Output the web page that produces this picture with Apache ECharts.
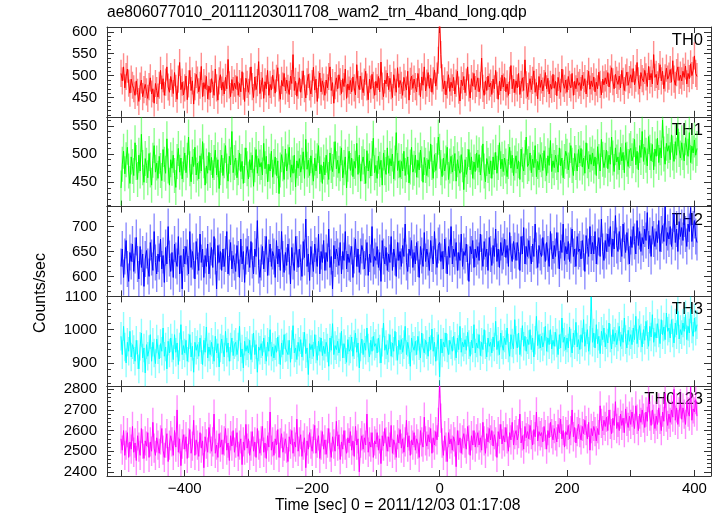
<!DOCTYPE html>
<html>
<head>
<meta charset="utf-8">
<script src="https://cdn.jsdelivr.net/npm/echarts@6/dist/echarts.min.js"></script>
<style>html,body{margin:0;padding:0;background:#fff}#c{width:720px;height:516px}</style>
</head>
<body>
<div id="c"></div>
<script>
// time grid of the light curves (seconds from 2011/12/03 01:17:08)
const timeStart = -500;
const timeStep = 2;

const th0 = [
505,488,520,472,498,515,483,460,492,478,
470,455,488,462,441,476,490,452,468,480,
463,448,475,495,458,470,437,482,466,451,
478,512,469,493,455,485,520,474,462,498,
483,459,507,471,446,492,530,468,485,456,
472,499,445,481,512,466,488,435,475,503,
490,463,478,521,452,484,470,498,447,476,
461,493,480,455,515,472,444,488,502,467,
485,458,496,470,537,479,452,491,466,483,
470,498,455,482,463,509,476,441,494,480,
462,488,520,475,450,497,468,484,532,459,
477,495,448,486,470,512,455,480,467,501,
483,460,494,518,472,446,489,476,505,465,
490,471,457,499,482,548,466,487,453,478,
495,462,480,511,470,449,486,503,474,458,
482,519,467,492,441,479,506,463,488,474,
455,490,472,498,520,466,484,437,477,495,
470,502,486,459,493,475,515,448,481,467,
489,463,497,472,456,525,480,468,499,476,
461,485,510,474,445,492,469,503,478,455,
487,472,498,463,531,476,452,490,481,506,
468,494,477,450,502,485,462,518,473,489,
478,455,496,481,467,510,444,487,499,471,
492,475,463,505,486,452,497,478,520,465,
483,507,471,494,462,488,513,476,499,535,
640,548,495,470,488,456,479,502,464,485,
472,496,458,483,510,467,442,490,477,498,
461,485,520,472,449,493,476,505,468,482,
495,463,478,540,471,455,488,466,499,474,
483,457,492,470,512,478,446,487,465,501,
474,496,463,481,455,489,523,470,492,461,
488,472,505,457,480,495,466,536,479,452,
476,493,468,489,511,462,484,447,498,473,
490,465,482,507,470,494,458,480,469,503,
471,487,454,496,478,462,515,483,471,490,
462,498,480,472,505,455,487,470,494,478,
484,466,501,477,493,458,482,510,469,488,
475,497,463,485,470,508,480,456,492,479,
495,481,507,474,492,518,486,470,503,489,
480,499,472,512,487,466,495,508,478,491,
502,485,516,479,494,530,488,470,507,493,
486,512,497,475,521,490,505,481,548,496,
503,479,498,525,488,510,470,495,517,492,
499,514,485,534,492,478,507,520,489,501,
488,510,496,522,481,505,493,527,500,512,
545,505,498];

const th1 = [
440,482,505,465,490,512,470,448,495,478,
462,520,485,455,498,470,535,476,450,492,
480,458,501,472,445,489,515,468,484,457,
496,471,453,508,482,466,527,479,445,490,
475,498,462,441,487,510,468,493,456,481,
502,467,489,530,474,451,495,478,512,463,
484,456,497,470,522,488,445,479,466,503,
471,494,458,485,507,463,490,439,476,498,
462,488,515,470,452,496,481,540,467,485,
493,458,476,502,469,487,448,480,511,474,
456,490,472,498,443,481,508,466,492,477,
485,463,519,474,496,451,482,470,505,459,
478,495,462,488,430,472,499,483,455,509,
470,486,512,459,481,466,498,442,488,475,
492,468,480,504,457,526,473,489,462,497,
476,452,493,470,488,515,465,481,448,486,
463,498,477,455,502,480,469,491,522,474,
489,466,483,511,458,476,495,440,482,505,
471,493,460,487,475,519,464,498,452,483,
495,478,448,506,470,488,461,492,528,467,
480,457,496,473,489,445,502,476,464,511,
466,492,479,500,456,484,538,471,488,459,
487,470,505,462,481,495,449,477,512,468,
475,498,459,489,472,507,483,450,494,480,
462,490,474,518,485,457,499,471,488,530,
505,476,460,493,470,484,512,455,479,496,
468,483,501,452,490,474,466,499,481,437,
490,464,478,508,472,495,457,486,469,502,
476,499,463,484,518,470,451,492,480,465,
488,457,495,472,503,466,485,520,474,491,
469,493,479,460,487,512,475,498,462,484,
497,474,488,455,509,481,470,494,530,478,
483,502,467,491,476,515,460,487,472,499,
490,471,506,483,462,497,480,524,469,488,
476,498,485,468,511,479,493,458,487,505,
496,472,489,515,480,462,501,485,470,508,
484,510,477,493,466,520,488,474,499,482,
502,479,495,462,513,487,470,526,491,476,
489,507,474,498,482,530,493,469,511,486,
495,472,512,488,503,467,520,491,478,506,
510,488,497,526,481,505,472,515,494,540,
487,512,498,479,531,503,488,517,472,509,
496,528,485,511,493,560,500,482,519,505,
515,490,534,502,487,522,498,545,508,493,
520,503,488,529,511,496,538,485,514,502,
525,498,510];

const th2 = [
620,655,598,640,672,615,590,648,630,665,
610,642,678,625,595,660,618,645,580,635,
652,620,600,668,638,612,690,628,605,645,
630,675,615,642,588,658,625,700,636,610,
648,598,665,632,620,680,605,642,575,655,
625,660,638,605,690,618,650,632,595,670,
640,612,685,628,655,598,642,620,665,605,
632,658,618,680,640,575,662,628,650,612,
655,620,645,690,605,638,668,615,642,628,
610,662,635,598,675,625,650,588,640,660,
645,618,670,632,605,655,640,712,622,598,
628,660,615,645,680,602,638,665,620,650,
640,598,672,625,655,612,690,635,608,648,
622,665,640,585,658,630,612,680,645,618,
655,628,600,670,638,715,620,645,592,660,
635,610,665,642,620,685,605,650,628,672,
612,648,630,695,618,640,575,662,635,655,
640,622,668,605,650,632,690,615,645,628,
625,660,598,642,675,620,655,608,640,662,
650,615,638,668,602,645,628,700,620,640,
632,660,618,648,590,672,640,625,658,612,
645,628,680,612,655,638,600,668,632,650,
620,662,640,705,628,610,655,642,672,618,
648,625,668,635,598,660,642,620,688,630,
655,638,612,672,645,625,690,640,618,662,
668,630,650,615,675,642,605,660,638,700,
625,655,640,668,612,648,632,685,620,650,
642,665,628,590,660,645,672,618,655,638,
660,632,685,648,620,670,640,655,612,678,
645,622,662,640,695,630,655,618,668,642,
650,675,638,662,620,688,645,630,670,652,
632,668,650,612,680,645,698,625,660,640,
672,645,625,665,640,705,652,618,662,648,
640,678,655,630,668,645,620,690,650,635,
662,640,688,652,615,672,648,705,632,660,
645,670,630,662,695,640,655,620,680,650,
655,635,672,648,610,682,660,640,700,645,
668,645,690,625,660,678,640,715,650,632,
672,650,685,660,700,640,675,655,722,662,
650,690,665,640,705,672,648,688,660,625,
680,658,700,670,645,712,662,690,650,678,
665,695,672,728,655,682,640,700,675,660,
690,668,712,650,685,702,670,740,662,688,
675,700,660,690,725,668,695,650,710,680,
698,672,715,685,660,705,690,738,670,695,
712,680,668];

const th3 = [
980,925,1010,948,900,962,935,995,918,955,
940,905,968,925,882,950,990,915,945,870,
955,920,940,985,905,962,930,898,972,940,
912,958,935,1005,920,948,882,965,930,975,
945,910,985,932,960,895,948,1015,925,952,
930,968,905,945,985,918,950,872,962,938,
955,920,975,940,895,968,932,1008,915,948,
925,962,940,905,980,930,958,888,945,972,
940,918,995,932,960,905,948,975,922,955,
962,925,948,1010,918,942,885,965,935,952,
930,968,910,945,990,925,955,872,948,938,
958,922,975,940,905,962,935,1000,920,948,
915,952,932,978,940,895,960,925,985,945,
948,925,968,902,955,1012,930,945,910,962,
935,970,918,950,992,928,945,865,958,940,
955,920,985,942,908,965,935,975,922,950,
928,962,945,890,975,938,1018,925,952,940,
965,930,948,995,915,958,940,902,970,935,
942,978,920,955,990,932,960,885,948,972,
925,960,938,1005,945,918,968,935,980,950,
958,930,975,942,900,962,1020,938,955,925,
945,985,920,960,935,995,950,908,968,940,
970,932,955,1010,925,962,940,890,975,950,
938,965,925,980,952,915,990,945,930,968,
955,920,978,940,1002,935,962,905,950,985,
858,972,930,962,948,990,945,925,968,955,
935,980,950,915,975,940,1010,932,962,948,
970,938,992,955,920,968,945,1015,930,960,
945,985,922,962,940,1000,955,918,975,950,
962,930,978,948,1025,940,965,925,990,955,
938,975,955,1005,945,920,985,960,942,1030,
968,945,990,925,962,1012,950,980,935,970,
955,1000,940,975,918,968,1040,952,985,945,
980,948,965,1010,935,975,955,1000,942,968,
950,992,960,925,985,945,1035,962,978,940,
975,945,1008,960,930,990,955,1022,948,970,
940,985,962,1030,950,975,1000,935,968,1098,
962,990,945,1015,958,980,928,995,970,1005,
948,985,960,1020,975,942,1000,965,990,955,
978,1010,950,985,962,1035,970,945,998,965,
985,955,1005,970,1040,958,990,1012,975,948,
1000,968,1025,985,950,1010,978,1045,962,992,
975,1018,990,958,1030,985,1008,970,1050,995,
1005,975,1030,990,960,1020,985,1055,972,1000,
985,1020,995,1045,970,1010,990,1062,1002,980,
1035,995,1015];

const th0123 = [
2560,2505,2600,2480,2530,2590,2470,2545,2510,2620,
2495,2540,2455,2575,2520,2480,2610,2535,2465,2550,
2525,2590,2470,2545,2500,2640,2515,2480,2565,2530,
2490,2555,2610,2505,2470,2540,2585,2450,2530,2575,
2545,2480,2600,2520,2700,2495,2560,2430,2535,2580,
2510,2570,2465,2540,2605,2490,2525,2650,2480,2555,
2530,2475,2590,2515,2550,2420,2570,2535,2495,2615,
2560,2500,2545,2680,2490,2530,2470,2585,2520,2555,
2485,2550,2610,2505,2540,2455,2575,2525,2600,2495,
2540,2590,2475,2530,2560,2435,2545,2505,2630,2515,
2560,2480,2525,2595,2500,2545,2470,2610,2530,2490,
2550,2620,2495,2540,2465,2575,2520,2690,2505,2545,
2480,2560,2530,2605,2470,2540,2585,2495,2525,2560,
2515,2450,2570,2535,2600,2490,2545,2520,2655,2500,
2545,2580,2475,2530,2565,2420,2550,2510,2590,2535,
2500,2560,2625,2490,2540,2575,2465,2530,2595,2510,
2555,2485,2540,2610,2520,2470,2570,2535,2500,2645,
2525,2580,2460,2545,2510,2600,2530,2490,2565,2540,
2595,2505,2550,2475,2620,2530,2560,2400,2540,2575,
2510,2565,2530,2680,2495,2545,2520,2590,2470,2550,
2535,2590,2505,2560,2440,2575,2525,2610,2545,2500,
2570,2520,2625,2490,2555,2530,2470,2580,2540,2605,
2515,2560,2495,2545,2650,2520,2575,2480,2555,2530,
2590,2505,2560,2535,2470,2600,2545,2520,2665,2550,
2525,2580,2545,2610,2490,2565,2530,2595,2555,2640,
2830,2660,2540,2480,2575,2520,2450,2590,2535,2560,
2505,2570,2545,2425,2600,2530,2565,2490,2555,2585,
2540,2510,2620,2555,2480,2575,2530,2600,2520,2560,
2590,2530,2565,2505,2640,2550,2490,2585,2545,2610,
2555,2600,2525,2580,2545,2470,2595,2560,2630,2535,
2575,2545,2615,2560,2500,2590,2555,2640,2530,2580,
2600,2555,2585,2680,2540,2575,2510,2620,2565,2595,
2560,2625,2580,2530,2605,2570,2690,2550,2595,2575,
2590,2545,2620,2580,2510,2600,2565,2640,2585,2555,
2610,2575,2545,2630,2590,2655,2560,2600,2520,2595,
2580,2625,2560,2600,2700,2570,2615,2540,2595,2630,
2590,2555,2620,2585,2650,2600,2560,2640,2505,2610,
2575,2620,2595,2550,2610,2580,2720,2635,2600,2650,
2620,2665,2600,2700,2630,2585,2660,2625,2740,2610,
2640,2600,2680,2625,2660,2590,2705,2645,2615,2670,
2630,2690,2650,2610,2720,2655,2600,2680,2640,2700,
2660,2615,2690,2645,2760,2670,2625,2700,2655,2610,
2670,2630,2710,2655,2600,2690,2645,2780,2665,2625,
2680,2640,2700,2665,2800,2650,2710,2630,2690,2730,
2655,2710,2680,2630,2740,2690,2670,2810,2650,2705,
2690,2750,2670];

const panelNames = ['TH0', 'TH1', 'TH2', 'TH3', 'TH0123'];
const panelValues = [th0, th1, th2, th3, th0123];
const panelErrors = [31, 31, 36, 43, 71];
const yMin = [406, 407, 560, 830, 2380];
const yMax = [611, 566, 740, 1100, 2815];
const yMajorTicks = [
  [450, 500, 550, 600],
  [450, 500, 550],
  [600, 650, 700],
  [900, 1000, 1100],
  [2400, 2500, 2600, 2700, 2800]
];
const yMinorStep = [10, 10, 10, 20, 20];
const xMin = -522, xMax = 426;
const xTickValues = [-500, -400, -300, -200, -100, 0, 100, 200, 300, 400];
const xLabelValues = [-400, -200, 0, 200, 400];

const titleText = 'ae806077010_20111203011708_wam2_trn_4band_long.qdp';
const xTitle = 'Time [sec] 0 = 2011/12/03 01:17:08';
const yTitle = 'Counts/sec';

// ---- styling / layout ----
const colors = ['#ff0000', '#00ff00', '#0000ff', '#00ffff', '#ff00ff'];
const FONT = '"Liberation Sans", Arial, Helvetica, sans-serif';
const frameColor = '#333';
const gridLeft = 107, gridRight = 9, gridTop0 = 27, panelH = 89.8;

function minorValues(i) {
  const out = [];
  const s = yMinorStep[i];
  for (let v = Math.ceil(yMin[i] / s) * s; v <= yMax[i]; v += s) out.push(v);
  return out;
}
const minus = v => String(v).replace('-', '\u2212');
const plain = v => String(v);

const grids = [], xAxes = [], yAxes = [], series = [], graphics = [];
for (let i = 0; i < 5; i++) {
  const top = gridTop0 + i * panelH;
  grids.push({ left: gridLeft, right: gridRight, top: top, height: panelH, containLabel: false });
  const isLast = i === 4;
  xAxes.push({
    type: 'value', gridIndex: i, position: 'bottom', min: xMin, max: xMax,
    axisLine: { show: true, onZero: false, lineStyle: { color: frameColor, width: 1 } },
    axisTick: { show: true, inside: true, length: 6, customValues: xTickValues, lineStyle: { color: frameColor } },
    axisLabel: { show: isLast, customValues: xLabelValues, formatter: minus, color: '#000', fontSize: 15, fontFamily: FONT, margin: 5 },
    splitLine: { show: false }
  });
  xAxes.push({
    type: 'value', gridIndex: i, position: 'top', min: xMin, max: xMax,
    axisLine: { show: true, onZero: false, lineStyle: { color: frameColor, width: 1 } },
    axisTick: { show: true, inside: true, length: 6, customValues: xTickValues, lineStyle: { color: frameColor } },
    axisLabel: { show: false }, splitLine: { show: false }
  });
  const minors = minorValues(i);
  const mk = (pos, major, labels) => ({
    type: 'value', gridIndex: i, position: pos, min: yMin[i], max: yMax[i],
    axisLine: { show: major, onZero: false, lineStyle: { color: frameColor, width: 1 } },
    axisTick: { show: true, inside: true, length: major ? 7 : 4, customValues: major ? yMajorTicks[i] : minors, lineStyle: { color: frameColor } },
    axisLabel: { show: labels, customValues: yMajorTicks[i], formatter: plain, color: '#000', fontSize: 15, fontFamily: FONT, margin: 10 },
    splitLine: { show: false }
  });
  const yBase = yAxes.length;
  yAxes.push(mk('left', true, true));
  yAxes.push(mk('left', false, false));
  yAxes.push(mk('right', true, false));
  yAxes.push(mk('right', false, false));

  const data = panelValues[i].map((v, k) => [timeStart + k * timeStep, v]);
  const err = panelErrors[i];
  const col = colors[i];
  series.push({
    type: 'custom', xAxisIndex: i * 2, yAxisIndex: yBase, clip: true, silent: true,
    data: data, encode: { x: 0, y: 1 },
    renderItem: function (params, api) {
      const x = api.value(0), y = api.value(1);
      const p1 = api.coord([x, y - err]), p2 = api.coord([x, y + err]);
      return { type: 'line', shape: { x1: p1[0], y1: p1[1], x2: p2[0], y2: p2[1] },
        style: { stroke: col, lineWidth: 1.4, opacity: 0.45 } };
    }
  });
  series.push({
    type: 'line', xAxisIndex: i * 2, yAxisIndex: yBase, data: data, clip: true,
    showSymbol: false, symbol: 'none', lineStyle: { color: col, width: 1 }, silent: true
  });
  graphics.push({ type: 'text', right: 17, top: top + 5,
    style: { text: panelNames[i], font: '16.5px ' + FONT, fill: '#000', textAlign: 'right' } });
}

graphics.push({ type: 'text', left: 107, top: 5,
  style: { text: titleText, font: '15.6px ' + FONT, fill: '#000' } });
graphics.push({ type: 'text', left: 275, top: 498,
  style: { text: xTitle, font: '15.7px ' + FONT, fill: '#000' } });
graphics.push({ type: 'text', left: 33, top: 253, rotation: Math.PI / 2, originX: 0, originY: 0,
  style: { text: yTitle, font: '16px ' + FONT, fill: '#000', textAlign: 'center', textVerticalAlign: 'middle' } });

const chart = echarts.init(document.getElementById('c'), null, { renderer: 'canvas' });
chart.setOption({
  animation: false,
  backgroundColor: '#fff',
  grid: grids, xAxis: xAxes, yAxis: yAxes, series: series, graphic: graphics
});
</script>
</body>
</html>
